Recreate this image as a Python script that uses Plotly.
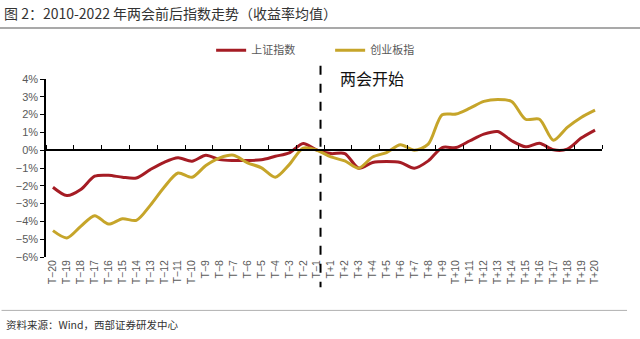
import plotly.graph_objects as go

categories = [f"T\u2212{i}" for i in range(20, 0, -1)] + [f"T+{i}" for i in range(1, 21)]

sse = [-2.08, -2.55, -2.21, -1.46, -1.41, -1.52, -1.56, -1.09, -0.68, -0.43,
       -0.62, -0.28, -0.53, -0.58, -0.58, -0.54, -0.34, -0.15, 0.38, 0.0,
       -0.19, -0.19, -1.01, -0.69, -0.64, -0.69, -1.01, -0.60, 0.15, 0.15,
       0.53, 0.90, 1.05, 0.53, 0.19, 0.39, 0.02, 0.06, 0.68, 1.13]

gem = [-4.52, -4.93, -4.28, -3.68, -4.15, -3.85, -3.94, -3.10, -2.08, -1.28,
       -1.52, -0.86, -0.43, -0.28, -0.71, -0.99, -1.52, -0.81, 0.12, 0.0,
       -0.38, -0.60, -1.01, -0.38, -0.13, 0.30, 0.0, 0.34, 1.99, 2.03,
       2.36, 2.74, 2.85, 2.74, 1.74, 1.74, 0.56, 1.28, 1.84, 2.25]

series_names = ["上证指数", "创业板指"]
colors = ["#A51C24", "#C6A52A"]
start_label = "T\u22121"
title_text = "图 2：2010-2022 年两会前后指数走势（收益率均值）"
source_text = "资料来源：Wind，西部证券研发中心"
event_text = "两会开始"

FONT = "Noto Sans CJK SC"

fig = go.Figure()
for name, vals, col in zip(series_names, [sse, gem], colors):
    fig.add_trace(go.Scatter(x=categories, y=[v / 100 for v in vals], mode="lines",
                             name=name, line=dict(color=col, width=3, shape="spline", smoothing=0.8)))

# invisible trace for zero-crossing axis
fig.add_trace(go.Scatter(x=categories, y=[0] * len(categories), xaxis="x2", mode="lines",
                         line=dict(width=0), showlegend=False, hoverinfo="skip"))

idx = categories.index(start_label)
fig.add_shape(type="line", xref="x", yref="paper", x0=idx + 0.25, x1=idx + 0.25,
              y0=1.075, y1=-0.17, line=dict(color="#000000", width=2, dash="dash"))

# rules
fig.add_shape(type="line", xref="paper", yref="paper", x0=-0.085, x1=1.07, y0=1.287, y1=1.287,
              line=dict(color="#8c8c8c", width=1.5))
fig.add_shape(type="line", xref="paper", yref="paper", x0=-0.08, x1=1.045, y0=-0.300, y1=-0.300,
              line=dict(color="#b0b0b0", width=1))

fig.add_annotation(text=title_text, xref="paper", yref="paper", x=-0.079, y=1.371,
                   xanchor="left", yanchor="middle", showarrow=False,
                   font=dict(family=FONT, size=14, color="#333333"))
fig.add_annotation(text=source_text, xref="paper", yref="paper", x=-0.075, y=-0.379,
                   xanchor="left", yanchor="middle", showarrow=False,
                   font=dict(family=FONT, size=10.5, color="#333333"))
fig.add_annotation(text=event_text, xref="paper", yref="paper", x=0.5865, y=1.006,
                   xanchor="center", yanchor="middle", showarrow=False,
                   font=dict(family=FONT, size=16, color="#111111"))

fig.update_layout(
    width=640, height=339,
    margin=dict(l=46, r=38, t=79, b=82),
    paper_bgcolor="white", plot_bgcolor="white",
    font=dict(family=FONT, color="#595959"),
    showlegend=True,
    legend=dict(orientation="h", x=0.297, y=1.162, xanchor="left", yanchor="middle",
                font=dict(family=FONT, size=11, color="#595959"), itemwidth=30,
                entrywidth=74, entrywidthmode="pixels",
                bgcolor="rgba(0,0,0,0)"),
    xaxis=dict(type="category", range=[-0.5, len(categories) - 0.5], showline=False,
               ticks="", showgrid=False, tickangle=-90,
               tickfont=dict(family="Liberation Sans", size=10.5, color="#595959")),
    xaxis2=dict(type="category", overlaying="x", anchor="free", position=0.6, side="top",
                range=[-0.5, len(categories) - 0.5], showline=True, linecolor="#000000",
                linewidth=1.5, ticks="outside", ticklen=4, tickcolor="#000000",
                tickson="boundaries", showticklabels=False, showgrid=False),
    yaxis=dict(range=[-0.06, 0.04], dtick=0.01, tickformat=".0%", showgrid=False,
               zeroline=False, showline=True, linecolor="#000000", linewidth=1.5,
               ticks="outside", ticklen=4, tickcolor="#000000",
               tickfont=dict(family="Liberation Sans", size=11, color="#595959")),
)

fig.write_html("out.html")
